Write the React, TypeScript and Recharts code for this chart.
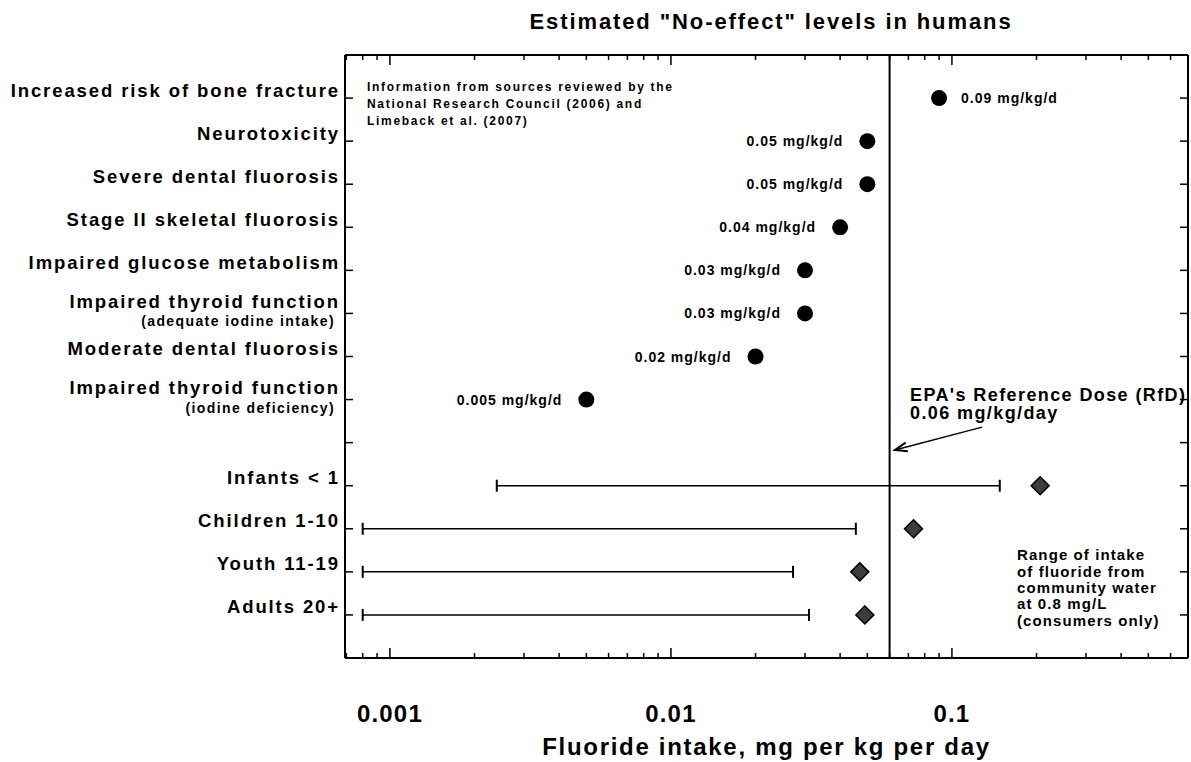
import React from 'react';
import { ScatterChart, Scatter, XAxis, YAxis, ReferenceLine, Label } from 'recharts';

// estimated "no-effect" levels, mg/kg/d
const effectNames = [
  'Increased risk of bone fracture',
  'Neurotoxicity',
  'Severe dental fluorosis',
  'Stage II skeletal fluorosis',
  'Impaired glucose metabolism',
  'Impaired thyroid function',
  'Moderate dental fluorosis',
  'Impaired thyroid function',
];
const effectNotes = ['', '', '', '', '', '(adequate iodine intake)', '', '(iodine deficiency)'];
const effectDoses = [0.09, 0.05, 0.05, 0.04, 0.03, 0.03, 0.02, 0.005];

// intake from community water at 0.8 mg/L
const groupNames = ['Infants < 1', 'Children 1-10', 'Youth 11-19', 'Adults 20+'];
const groupLow = [0.0024, 0.0008, 0.0008, 0.0008];
const groupHigh = [0.148, 0.0455, 0.0272, 0.031];
const groupMarker = [0.206, 0.073, 0.047, 0.049];

const rfd = 0.06;
const decades = [0.001, 0.01, 0.1];
const minorSteps = [1, 2, 3, 4, 5, 6, 7, 8, 9];
const xDomain = [0.000692, 0.692];

const rowLabels = [...effectNames, '', ...groupNames];
const rowNotes = [...effectNotes, '', '', '', '', ''];
const rows = rowLabels.map((_, i) => i + 1);

const xTicks = [0.0001, ...decades]
  .flatMap((d) => minorSteps.map((m) => +(d * m).toPrecision(3)))
  .filter((v) => v >= xDomain[0] && v <= xDomain[1]);

const FONT = '"Liberation Sans", Arial, Helvetica, sans-serif';
const axisStyle = { stroke: '#000', strokeWidth: 2 };

const BottomTick = ({ x, y, payload }: any) => {
  const major = decades.includes(payload.value);
  return (
    <g>
      <line x1={x} x2={x} y1={y} y2={y - (major ? 10 : 5)} stroke="#000" strokeWidth={1.5} />
      {major && (
        <text
          x={x}
          y={y + 55}
          textAnchor="middle"
          dominantBaseline="central"
          fontFamily={FONT}
          fontWeight={700}
          fontSize={24}
          letterSpacing={1.2}
          fill="#000"
        >
          {String(payload.value)}
        </text>
      )}
    </g>
  );
};

const TopTick = ({ x, y, payload }: any) => {
  const major = decades.includes(payload.value);
  return <line x1={x} x2={x} y1={y} y2={y + (major ? 10 : 5)} stroke="#000" strokeWidth={1.5} />;
};

const LeftTick = ({ x, y, payload }: any) => {
  const label = rowLabels[payload.value - 1];
  const note = rowNotes[payload.value - 1];
  return (
    <g>
      <line x1={x} x2={x + 8} y1={y} y2={y} stroke="#000" strokeWidth={1.5} />
      <text
        x={x - 5}
        y={note ? y - 12 : y - 8}
        textAnchor="end"
        dominantBaseline="central"
        fontFamily={FONT}
        fontWeight={700}
        fontSize={18.5}
        letterSpacing={1.9}
        fill="#000"
      >
        {label}
      </text>
      {note && (
        <text
          x={x - 10}
          y={y + 8}
          textAnchor="end"
          dominantBaseline="central"
          fontFamily={FONT}
          fontWeight={700}
          fontSize={14}
          letterSpacing={1.4}
          fill="#000"
        >
          {note}
        </text>
      )}
    </g>
  );
};

const RightTick = ({ x, y }: any) => (
  <line x1={x} x2={x - 8} y1={y} y2={y} stroke="#000" strokeWidth={1.5} />
);

const EffectDot = ({ cx, cy, payload }: any) => {
  const right = payload.dose > rfd;
  return (
    <g>
      <circle cx={cx} cy={cy} r={8} fill="#000" />
      <text
        x={right ? cx + 22 : cx - 24}
        y={cy}
        textAnchor={right ? 'start' : 'end'}
        dominantBaseline="central"
        fontFamily={FONT}
        fontWeight={700}
        fontSize={14}
        letterSpacing={1}
        fill="#000"
      >
        {`${payload.dose} mg/kg/d`}
      </text>
    </g>
  );
};

const Diamond = ({ cx, cy }: any) => (
  <polygon
    points={`${cx},${cy - 9} ${cx + 9},${cy} ${cx},${cy + 9} ${cx - 9},${cy}`}
    fill="#3d3d3d"
    stroke="#000"
    strokeWidth={1.5}
  />
);

const Cap = ({ cx, cy }: any) => (
  <line x1={cx} x2={cx} y1={cy - 6} y2={cy + 6} stroke="#000" strokeWidth={2} />
);

const Arrow = ({ x1, y1, x2, y2 }: any) => {
  const a = Math.atan2(y2 - y1, x2 - x1);
  const len = 13;
  const p1 = [x2 - len * Math.cos(a - 0.35), y2 - len * Math.sin(a - 0.35)];
  const p2 = [x2 - len * Math.cos(a + 0.35), y2 - len * Math.sin(a + 0.35)];
  return (
    <g>
      <line x1={x1} y1={y1} x2={x2} y2={y2} stroke="#000" strokeWidth={1.5} />
      <polyline points={`${p1[0]},${p1[1]} ${x2},${y2} ${p2[0]},${p2[1]}`} fill="none" stroke="#000" strokeWidth={2} />
    </g>
  );
};

const effectPoints = effectDoses.map((dose, i) => ({ dose, row: i + 1 }));
const markerPoints = groupMarker.map((dose, i) => ({ dose, row: effectNames.length + 2 + i }));
const rangeSeries = groupNames.map((name, i) => ({
  name,
  points: [
    { dose: groupLow[i], row: effectNames.length + 2 + i },
    { dose: groupHigh[i], row: effectNames.length + 2 + i },
  ],
}));

const textProps = { fontFamily: FONT, fontWeight: 700, fill: '#000' };

export default function App() {
  return (
    <div style={{ position: 'absolute', left: 0, top: 0, background: '#fff' }}>
      <ScatterChart width={1191} height={762} margin={{ top: 0, right: 2, bottom: 0, left: 0 }}>
        <XAxis
          xAxisId="x"
          type="number"
          dataKey="dose"
          scale="log"
          domain={xDomain}
          allowDataOverflow
          ticks={xTicks}
          interval={0}
          tickSize={0}
          tickMargin={0}
          tickLine={false}
          tick={BottomTick}
          height={104}
          axisLine={axisStyle}
        >
          <Label
            value="Fluoride intake, mg per kg per day"
            position="insideBottom"
            offset={7}
            style={{ fontFamily: FONT, fontWeight: 700, fontSize: 24, letterSpacing: 1.7, fill: '#000' }}
          />
        </XAxis>
        <XAxis
          xAxisId="top"
          orientation="top"
          type="number"
          dataKey="dose"
          scale="log"
          domain={xDomain}
          allowDataOverflow
          ticks={xTicks}
          interval={0}
          tickSize={0}
          tickMargin={0}
          tickLine={false}
          tick={TopTick}
          height={55}
          axisLine={axisStyle}
        />
        <YAxis
          yAxisId="y"
          type="number"
          dataKey="row"
          domain={[0, 14]}
          reversed
          allowDataOverflow
          ticks={rows}
          interval={0}
          tickSize={0}
          tickMargin={0}
          tickLine={false}
          tick={LeftTick}
          width={345}
          axisLine={axisStyle}
        />
        <YAxis
          yAxisId="right"
          orientation="right"
          type="number"
          dataKey="row"
          domain={[0, 14]}
          reversed
          allowDataOverflow
          ticks={rows}
          interval={0}
          tickSize={0}
          tickMargin={0}
          tickLine={false}
          tick={RightTick}
          width={1}
          axisLine={axisStyle}
        />

        <ReferenceLine xAxisId="x" yAxisId="y" x={rfd} stroke="#000" strokeWidth={2} />
        <ReferenceLine
          xAxisId="x"
          yAxisId="y"
          segment={[
            { x: 0.128, y: 8.64 },
            { x: 0.0627, y: 9.17 },
          ]}
          shape={Arrow}
        />

        {rangeSeries.map((s) => (
          <Scatter
            key={s.name}
            name={s.name}
            xAxisId="x"
            yAxisId="y"
            data={s.points}
            line={{ stroke: '#000', strokeWidth: 1.5 }}
            shape={Cap}
            isAnimationActive={false}
          />
        ))}
        <Scatter
          name="Intake"
          xAxisId="x"
          yAxisId="y"
          data={markerPoints}
          shape={Diamond}
          isAnimationActive={false}
        />
        <Scatter
          name="No-effect level"
          xAxisId="x"
          yAxisId="y"
          data={effectPoints}
          shape={EffectDot}
          isAnimationActive={false}
        />

        <text x={771} y={21} textAnchor="middle" dominantBaseline="central" fontSize={22} letterSpacing={1.9} {...textProps}>
          Estimated "No-effect" levels in humans
        </text>

        <text fontSize={12} letterSpacing={1.7} {...textProps}>
          <tspan x={367} y={91}>Information from sources reviewed by the</tspan>
          <tspan x={367} y={108}>National Research Council (2006) and</tspan>
          <tspan x={367} y={125}>Limeback et al. (2007)</tspan>
        </text>

        <text fontSize={18} letterSpacing={1.4} {...textProps}>
          <tspan x={910} y={401}>EPA's Reference Dose (RfD)</tspan>
          <tspan x={910} y={419}>0.06 mg/kg/day</tspan>
        </text>

        <text fontSize={15} letterSpacing={1.1} {...textProps}>
          <tspan x={1017} y={560}>Range of intake</tspan>
          <tspan x={1017} y={577}>of fluoride from</tspan>
          <tspan x={1017} y={593}>community water</tspan>
          <tspan x={1017} y={609}>at 0.8 mg/L</tspan>
          <tspan x={1017} y={626}>(consumers only)</tspan>
        </text>
      </ScatterChart>
    </div>
  );
}
